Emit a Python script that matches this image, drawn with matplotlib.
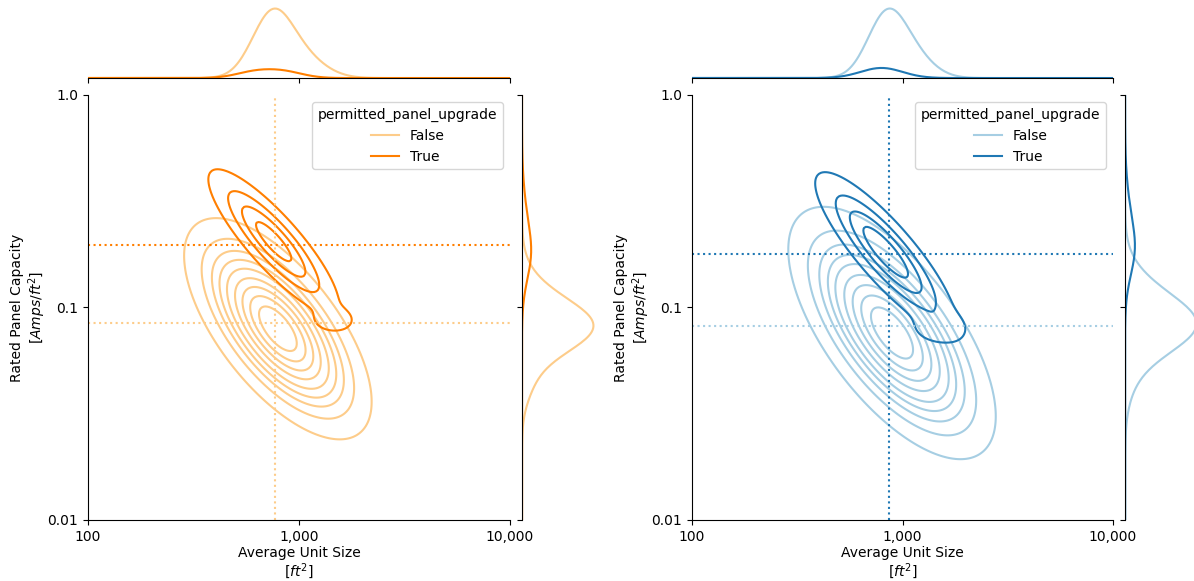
import numpy as np
import matplotlib
matplotlib.use("Agg")
import matplotlib.pyplot as plt
from matplotlib.lines import Line2D

# joint density per group, log10 space
# (weight, mean_x, mean_y, sd_x, sd_y, rho)
left_false_2d = [(0.86, 2.90, -1.10, 0.175, 0.205, -0.66)]
left_true_2d = [(0.135, 2.88, -0.69, 0.150, 0.165, -0.86),
                (0.005, 3.16, -1.06, 0.06, 0.035, 0.0)]
right_false_2d = [(0.86, 2.95, -1.12, 0.195, 0.235, -0.66)]
right_true_2d = [(0.135, 2.92, -0.74, 0.160, 0.180, -0.86),
                 (0.006, 3.17, -1.10, 0.08, 0.045, 0.0)]

# marginal curves: (weight, mean, sd)
left_false_top = [(0.72, 2.87, 0.095), (0.28, 3.01, 0.11)]
left_true_top = [(0.5, 2.79, 0.09), (0.5, 2.93, 0.09)]
left_false_side = [(0.60, -1.11, 0.115), (0.32, -1.00, 0.13), (0.08, -1.35, 0.10)]
left_true_side = [(0.6, -0.76, 0.12), (0.4, -0.60, 0.15)]
right_false_top = [(0.70, 2.92, 0.09), (0.30, 3.04, 0.10)]
right_true_top = [(1.0, 2.90, 0.10)]
right_false_side = [(0.60, -1.10, 0.12), (0.30, -0.96, 0.13), (0.10, -1.30, 0.13)]
right_true_side = [(0.6, -0.74, 0.12), (0.4, -0.58, 0.15)]
group_share = [0.88, 0.12]

# medians (dotted reference lines)
left_med_x = 769
left_med_y = [0.0845, 0.197]
right_med_x = 864
right_med_y = [0.0818, 0.179]

hue_labels = ["False", "True"]
left_colors = ["#fdcc8a", "#ff7f00"]
right_colors = ["#a6cee3", "#1f78b4"]

x_ticks = [100, 1000, 10000]
x_ticklabels = ["100", "1,000", "10,000"]
y_ticks = [0.01, 0.1, 1.0]
y_ticklabels = ["0.01", "0.1", "1.0"]


def density2d(gx, gy, comps):
    z = np.zeros_like(gx)
    for w, mx, my, sx, sy, r in comps:
        dx = (gx - mx) / sx
        dy = (gy - my) / sy
        q = (dx ** 2 - 2 * r * dx * dy + dy ** 2) / (1 - r ** 2)
        z += w * np.exp(-q / 2) / (2 * np.pi * sx * sy * np.sqrt(1 - r ** 2))
    return z


def density1d(g, comps):
    z = np.zeros_like(g)
    for w, m, s in comps:
        z += w * np.exp(-0.5 * ((g - m) / s) ** 2) / (s * np.sqrt(2 * np.pi))
    return z


def iso_levels(dens, props):
    vals = np.sort(np.concatenate([d.ravel() for d in dens]))[::-1]
    cum = np.cumsum(vals) / vals.sum()
    idx = np.searchsorted(cum, 1 - props)
    return np.take(vals, idx, mode="clip")


def joint(fig, x0, w, groups2d, tops, sides, colors, med_x, med_x_color, med_ys):
    ax = fig.add_axes([x0, 0.105, w, 0.7315])
    ax_top = fig.add_axes([x0, 0.8657, w, 0.1256], sharex=ax)
    ax_right = fig.add_axes([x0 + w + 0.0101, 0.105, 0.0628, 0.7315], sharey=ax)

    gx1 = np.linspace(1.3, 4.7, 400)
    gy1 = np.linspace(-2.7, 0.7, 400)
    gx, gy = np.meshgrid(gx1, gy1)
    dens = [density2d(gx, gy, g) for g in groups2d]
    levels = iso_levels(dens, np.linspace(0.05, 1, 10))

    for d, c in zip(dens, colors):
        ax.contour(10 ** gx, 10 ** gy, d, levels=levels, colors=[c], linewidths=1.5)

    top_max = 0
    right_max = 0
    for t, s, share, c in zip(tops, sides, group_share, colors):
        mx = share * density1d(gx1, t)
        my = share * density1d(gy1, s)
        ax_top.plot(10 ** gx1, mx, color=c, lw=1.5)
        ax_right.plot(my, 10 ** gy1, color=c, lw=1.5)
        top_max = max(top_max, mx.max())
        right_max = max(right_max, my.max())

    for yv, c in zip(med_ys, colors):
        ax.axhline(yv, ls=":", color=c, lw=1.5)
    ax.axvline(med_x, ls=":", color=med_x_color, lw=1.5)

    ax.set_xscale("log")
    ax.set_yscale("log")
    ax.set_xlim(100, 10000)
    ax.set_ylim(0.01, 1)
    ax.set_xticks(x_ticks)
    ax.set_xticklabels(x_ticklabels)
    ax.set_yticks(y_ticks)
    ax.set_yticklabels(y_ticklabels)
    ax.minorticks_off()
    ax.tick_params(labelsize=10)
    ax.set_xlabel("Average Unit Size\n[$ft^2$]", fontsize=10, labelpad=2, linespacing=1.05)
    ax.set_ylabel("Rated Panel Capacity\n[$Amps/ft^2$]", fontsize=10, labelpad=0, linespacing=1.1)
    for s in ["top", "right"]:
        ax.spines[s].set_visible(False)

    handles = [Line2D([], [], color=c, lw=1.5) for c in colors]
    ax.legend(handles, hue_labels, title="permitted_panel_upgrade",
              loc="upper right", fontsize=10, title_fontsize=10)

    ax_top.set_ylim(0, top_max * 1.05)
    ax_top.tick_params(labelbottom=False, left=False, labelleft=False)
    for s in ["top", "right", "left"]:
        ax_top.spines[s].set_visible(False)

    ax_right.set_xlim(0, right_max * 1.05)
    ax_right.tick_params(labelleft=False, bottom=False, labelbottom=False)
    for s in ["top", "right", "bottom"]:
        ax_right.spines[s].set_visible(False)
    ax_right.minorticks_off()
    ax_top.minorticks_off()
    return ax


fig = plt.figure(figsize=(11.94, 5.81), dpi=100)
joint(fig, 0.0737, 0.3534, [left_false_2d, left_true_2d],
      [left_false_top, left_true_top], [left_false_side, left_true_side],
      left_colors, left_med_x, left_colors[0], left_med_y)
joint(fig, 0.5796, 0.3526, [right_false_2d, right_true_2d],
      [right_false_top, right_true_top], [right_false_side, right_true_side],
      right_colors, right_med_x, right_colors[1], right_med_y)
fig.savefig("out.png", dpi=100)
